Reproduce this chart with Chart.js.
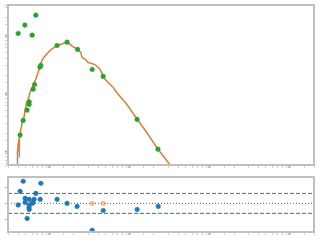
<!DOCTYPE html>
<html><head><meta charset="utf-8">
<script src="https://cdn.jsdelivr.net/npm/chart.js@4/dist/chart.umd.min.js"></script>
<style>
html,body{margin:0;padding:0;background:#fff;}
#w1{position:absolute;left:0;top:0;width:320px;height:170px;}
#w2{position:absolute;left:0;top:170px;width:320px;height:70px;}
</style></head><body>
<div id="w1"><canvas id="c1"></canvas></div>
<div id="w2"><canvas id="c2"></canvas></div>
<script>
// Observed points (top panel)
const obsX = [0.402,0.487,0.601,0.668,0.425,0.464,0.520,0.551,0.551,0.618,0.644,0.750,0.772,1.23,1.64,2.22,3.38,4.64,12.3,22.4];
const obsY = [107,149,100,221,1.89,3.38,5.09,6.38,7.08,11.7,14.1,28.1,30.0,66.4,75.7,56.7,25.6,19.4,3.52,1.08];
// Model curve (orange)
const modelX = [0.390,0.394,0.406,0.416,0.418,0.430,0.456,0.473,0.487,0.511,0.531,0.562,0.618,0.668,0.714,0.750,0.811,0.910,1.05,1.23,1.47,1.64,1.87,2.19,2.44,2.51,2.74,3.01,3.65,4.22,4.87,6.18,6.82,9.10,12.3,16.2,22.4,32.3];
const modelY = [0.55,1.08,1.43,0.79,1.61,2.21,3.56,3.42,4.95,7.0,6.8,10.4,13.4,17.4,22.7,29.6,38.6,47.0,57.4,65.5,72.0,76.6,65.5,57.4,50.3,41.3,38.6,33.8,31.2,25.9,17.4,12.5,10.3,6.46,3.56,2.10,1.08,0.558];
// Smoothed model (gray, underneath)
const smoothX = [0.390,0.394,0.406,0.430,0.456,0.487,0.511,0.562,0.618,0.668,0.714,0.750,0.811,0.910,1.05,1.23,1.47,1.64,1.87,2.19,2.44,2.51,2.74,3.01,3.65,4.22,4.87,6.18,6.82,9.10,12.3,16.2,22.4,32.3];
const smoothY = [0.55,0.95,1.35,2.1,3.3,4.6,6.4,9.8,13.4,17.4,22.7,29.6,38.6,47.0,57.4,65.5,72.0,76.6,65.5,57.4,50.3,41.3,38.6,33.8,31.2,25.9,17.4,12.5,10.3,6.46,3.56,2.10,1.08,0.558];
// Residuals (bottom panel)
const resX = [0.464,0.772,0.425,0.668,0.491,0.551,0.636,0.757,1.23,0.491,0.601,0.618,1.64,0.402,0.551,0.551,0.551,2.19,4.64,12.3,22.6,0.520,3.38];
const resY = [0.69,0.625,0.375,0.31,0.156,0.125,0.125,0.125,0.125,0.03,0,0.03,0,-0.05,-0.05,-0.125,-0.19,-0.094,-0.22,-0.19,-0.094,-0.47,-0.84];
const limX = [3.38,4.64];
const limY = [0,0];
const bandLevels = [-0.31,0,0.31];

const X_MIN = 0.30, X_MAX = 1995;
const toPts = (xs, ys) => xs.map((x,i)=>({x:x,y:ys[i]}));
const frame = {
  id:'frame',
  afterDatasetsDraw(chart){
    const a = chart.chartArea, c = chart.ctx;
    c.save(); c.strokeStyle='#c0c0c0'; c.lineWidth=2;
    c.strokeRect(a.left, a.top, a.right-a.left, a.bottom-a.top);
    c.restore();
  }
};
const tickW = ctx => (ctx.tick && ctx.tick.major) ? 2 : 1;
const tickC = ctx => (ctx.tick && ctx.tick.major) ? '#aaaaaa' : '#d0d0d0';
function xAxis(h){
  return {type:'logarithmic', min:X_MIN, max:X_MAX,
    afterFit: s => { s.height = h; },
    ticks:{display:false, autoSkip:false},
    grid:{drawOnChartArea:false, drawTicks:true, tickLength:3, tickColor:tickC, tickWidth:tickW},
    border:{display:false}};
}
Chart.defaults.animation = false;
new Chart(document.getElementById('c1'), {
  type:'scatter',
  data:{datasets:[
    {type:'line', order:3, data:toPts(smoothX,smoothY), borderColor:'rgba(170,170,170,0.7)', borderWidth:1.8, pointRadius:0, tension:0},
    {type:'line', order:2, data:toPts(modelX,modelY), borderColor:'rgb(225,125,35)', borderWidth:1.1, pointRadius:0, tension:0},
    {order:1, data:toPts(obsX,obsY), backgroundColor:'#2ca02c', borderColor:'rgba(44,160,44,0.5)', borderWidth:1, pointRadius:2.3}
  ]},
  options:{responsive:true, maintainAspectRatio:false,
    layout:{padding:{top:5,right:6,left:0,bottom:0}},
    plugins:{legend:{display:false}, tooltip:{enabled:false}},
    scales:{
      x: xAxis(4),
      y:{type:'logarithmic', min:0.575, max:331,
        afterFit: s => { s.width = 8; },
        ticks:{display:false, autoSkip:false},
        grid:{drawOnChartArea:false, drawTicks:true, tickLength:3, tickColor:tickC, tickWidth:tickW},
        border:{display:false}}
    }},
  plugins:[frame]
});
const bandDs = bandLevels.map(v => ({type:'line', order:3, data:[{x:X_MIN,y:v},{x:X_MAX,y:v}],
  borderColor:'#1f77b4', borderWidth:1, borderDash: v===0 ? [1,2] : [4,2], pointRadius:0}));
new Chart(document.getElementById('c2'), {
  type:'scatter',
  data:{datasets:[...bandDs,
    {order:2, data:toPts(limX,limY), backgroundColor:'rgba(255,127,14,0.45)', borderColor:'rgba(255,127,14,0.3)', borderWidth:1, pointRadius:2.3},
    {order:1, data:toPts(resX,resY), backgroundColor:'#1f77b4', borderColor:'rgba(31,119,180,0.5)', borderWidth:1, pointRadius:2.3}
  ]},
  options:{responsive:true, maintainAspectRatio:false,
    layout:{padding:{top:7,right:6,left:0,bottom:0}},
    plugins:{legend:{display:false}, tooltip:{enabled:false}},
    scales:{
      x: xAxis(8),
      y:{type:'linear', min:-0.89, max:0.82,
        afterFit: s => { s.width = 8; },
        ticks:{display:false, stepSize:0.5, includeBounds:false},
        grid:{drawOnChartArea:false, drawTicks:true, tickLength:3, tickColor:'#bbbbbb'},
        border:{display:false}}
    }},
  plugins:[frame]
});
</script></body></html>
